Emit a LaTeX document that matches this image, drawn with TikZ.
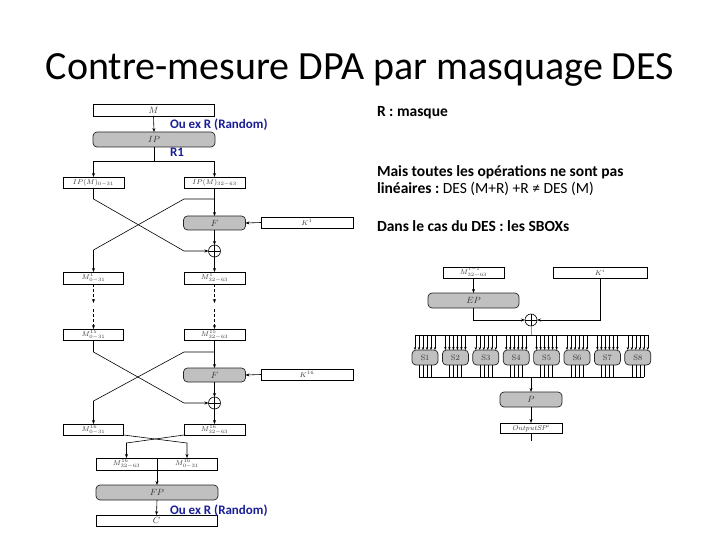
\documentclass[tikz,border=0pt]{standalone}
\usepackage{fontspec}
\newfontfamily\calibri{Carlito}
\usetikzlibrary{arrows.meta}
\definecolor{boxgray}{RGB}{192,192,192}
\definecolor{lblue}{RGB}{25,30,150}
\definecolor{lbl}{RGB}{55,55,55}
\begin{document}
\begin{tikzpicture}[x=1pt,y=-1pt,
  every node/.style={inner sep=0pt, outer sep=0pt},
  plainbox/.style={draw=black, line width=0.7pt, fill=white, text=lbl, font=\fontsize{7}{8}\selectfont},
  graybox/.style={draw=black!85, line width=0.7pt, fill=boxgray, rounded corners=4pt, text=lbl, font=\fontsize{9}{10}\selectfont},
  sbox/.style={graybox, minimum width=26pt, minimum height=15pt, font=\fontsize{8}{9}\selectfont},
  xorop/.style={circle, draw=black, line width=0.6pt, fill=white, minimum size=12pt,
    path picture={\draw[line width=0.6pt] (path picture bounding box.north) -- (path picture bounding box.south)
      (path picture bounding box.west) -- (path picture bounding box.east);}},
  line/.style={line width=0.6pt},
  conn/.style={line width=0.6pt, -{Stealth[length=4pt,width=3pt]}},
  tinyconn/.style={line width=0.5pt, -{Stealth[length=3pt,width=2.4pt]}},
  dconn/.style={conn, dash pattern=on 3pt off 2pt},
  slidetext/.style={anchor=base west, font=\calibri\bfseries\fontsize{15.5}{18}\selectfont},
  bluetext/.style={anchor=base west, text=lblue, font=\calibri\bfseries\fontsize{13}{16}\selectfont}
]
\path[fill=white] (0,0) rectangle (720,540);

% title and slide text
\node[anchor=base, font=\calibri\fontsize{40}{48}\selectfont] (title) at (360,80) {Contre-mesure DPA par masquage DES};
\node[slidetext] (t1) at (377,117) {R : masque};
\node[slidetext] (t2) at (377,177) {Mais toutes les opérations ne sont pas};
\node[slidetext] (t3) at (377,194) {linéaires :\mdseries\ DES (M+R) +R ≠ DES (M)};
\node[slidetext] (t4) at (377,232) {Dans le cas du DES : les SBOXs};

% ---------------- left diagram ----------------
\node[plainbox, minimum width=121pt, minimum height=12pt, font=\fontsize{9}{10}\selectfont] (M) at (153.5,110) {$M$};
\node[graybox, minimum width=122pt, minimum height=15pt] (IP) at (154,139.5) {$IP$};
\node[plainbox, minimum width=61pt, minimum height=11pt] (IPL) at (93.5,182.5) {$IP(M)_{0-31}$};
\node[plainbox, minimum width=61pt, minimum height=11pt] (IPR) at (214.5,182.5) {$IP(M)_{32-63}$};
\node[graybox, minimum width=62pt, minimum height=14pt] (F1) at (214.5,223) {$F$};
\node[plainbox, minimum width=92pt, minimum height=11pt] (K1) at (307,222.5) {$K^1$};
\node[xorop] (X1) at (214.5,251) {};
\node[plainbox, minimum width=60pt, minimum height=12pt] (M1L) at (93.5,278) {$M^1_{0-31}$};
\node[plainbox, minimum width=61pt, minimum height=12pt] (M1R) at (214.5,278) {$M^1_{32-63}$};
\node[plainbox, minimum width=60pt, minimum height=11pt] (M15L) at (93.5,334.5) {$M^{15}_{0-31}$};
\node[plainbox, minimum width=61pt, minimum height=11pt] (M15R) at (214.5,334.5) {$M^{15}_{32-63}$};
\node[graybox, minimum width=62pt, minimum height=14pt] (F16) at (214.5,375) {$F$};
\node[plainbox, minimum width=92pt, minimum height=11pt] (K16) at (307,374.5) {$K^{16}$};
\node[xorop] (X16) at (214.5,403) {};
\node[plainbox, minimum width=60pt, minimum height=11pt] (M16L) at (93.5,429.5) {$M^{16}_{0-31}$};
\node[plainbox, minimum width=61pt, minimum height=11pt] (M16R) at (214.5,429.5) {$M^{16}_{32-63}$};
\node[plainbox, minimum width=61pt, minimum height=12pt] (MA) at (126.5,464) {$M^{16}_{32-63}$};
\node[plainbox, minimum width=60pt, minimum height=12pt] (MB) at (187,464) {$M^{16}_{0-31}$};
\node[graybox, minimum width=122pt, minimum height=15pt] (FP) at (157,492.5) {$FP$};
\node[plainbox, minimum width=121pt, minimum height=11pt, font=\fontsize{9}{10}\selectfont] (C) at (156.5,520.5) {$C$};

\node[bluetext] (b1) at (170,129) {Ou ex R (Random)};
\node[bluetext] (b2) at (170,157) {R1};
\node[bluetext] (b3) at (170,514) {Ou ex R (Random)};

% connectors
\draw[conn] (M.south) -- (IP.north);
\coordinate (s0) at (154,161);
\draw[line] (IP.south) -- (s0);
\draw[conn] (s0) -| (IPL.north);
\draw[conn] (s0) -| (IPR.north);
% round 1
\coordinate (a1) at (93.5,199);
\coordinate (a2) at (184,251);
\draw[conn] (IPL.south) -- (a1) -- (a2) -- (X1.west);
\coordinate (r1) at (214.5,199);
\coordinate (r2) at (184,199);
\coordinate (r3) at (93.5,250);
\draw[conn] (IPR.south) -- (F1.north);
\draw[conn] (r1) -- (r2) -- (r3) -- (M1L.north);
\draw[conn] (K1.west) -- (F1.east);
\draw[conn] (F1.south) -- (X1.north);
\draw[conn] (X1.south) -- (M1R.north);
% dashed
\coordinate (dl1) at (93.5,303);
\coordinate (dl2) at (93.5,309);
\coordinate (dr1) at (214.5,303);
\coordinate (dr2) at (214.5,309);
\draw[dconn] (M1L.south) -- (dl1);
\draw[dconn] (dl2) -- (M15L.north);
\draw[dconn] (M1R.south) -- (dr1);
\draw[dconn] (dr2) -- (M15R.north);
% round 16
\coordinate (a3) at (93.5,352);
\coordinate (a4) at (184,403);
\draw[conn] (M15L.south) -- (a3) -- (a4) -- (X16.west);
\coordinate (r4) at (214.5,352);
\coordinate (r5) at (184,352);
\coordinate (r6) at (93.5,401);
\draw[conn] (M15R.south) -- (F16.north);
\draw[conn] (r4) -- (r5) -- (r6) -- (M16L.north);
\draw[conn] (K16.west) -- (F16.east);
\draw[conn] (F16.south) -- (X16.north);
\draw[conn] (X16.south) -- (M16R.north);
% final swap
\coordinate (e1) at (187,443);
\coordinate (e2) at (126.5,443);
\draw[conn] (M16L.south east) -- (e1) -- (MB.north);
\draw[conn] (M16R.south west) -- (e2) -- (MA.north);
\draw[conn] (MA.south east) -- (FP.north);
\draw[conn] (FP.south) -- (C.north);

% ---------------- right diagram ----------------
\node[plainbox, minimum width=61pt, minimum height=11pt] (MI) at (473.5,272.5) {$M^{i-1}_{32-63}$};
\node[plainbox, minimum width=94pt, minimum height=11pt] (KI) at (600,272.5) {$K^i$};
\node[graybox, minimum width=91pt, minimum height=15pt] (EP) at (473.5,300.5) {$EP$};
\node[xorop] (XR) at (531,320) {};
\draw[conn] (MI.south) -- (EP.north);
\draw[conn] (EP.south) |- (XR.west);
\draw[conn] (KI.south) |- (XR.east);
\coordinate (busin) at (531,335);
\draw[line, draw=black!40] (XR.south) -- (busin);
\coordinate (binL) at (415,335);
\coordinate (binR) at (647.8,335);
\draw[line] (binL) -- (binR);
\coordinate (boutL) at (419,377);
\coordinate (boutR) at (643.8,377);
\draw[line] (boutL) -- (boutR);
\foreach \i/\cx in {1/425,2/455.4,3/485.8,4/516.2,5/546.6,6/577,7/607.4,8/637.8} {
  \node[sbox] (S\i) at (\cx,357.5) {S\i};
  \foreach \d in {-10,-6,-2,2,6,10} \draw[tinyconn] ({\cx+\d},335) -- ({\cx+\d},350);
  \foreach \d in {-6,-2,2,6} \draw[line] ({\cx+\d},365) -- ({\cx+\d},377);
}
\node[graybox, minimum width=62pt, minimum height=15pt] (P) at (531,399.5) {$P$};
\node[plainbox, minimum width=62pt, minimum height=10pt] (OUT) at (531,428) {$\mathit{OutputSP}^i$};
\coordinate (bout) at (531,377);
\coordinate (tail) at (531,441);
\draw[conn] (bout) -- (P.north);
\draw[conn] (P.south) -- (OUT.north);
\draw[line] (OUT.south) -- (tail);
\end{tikzpicture}
\end{document}
